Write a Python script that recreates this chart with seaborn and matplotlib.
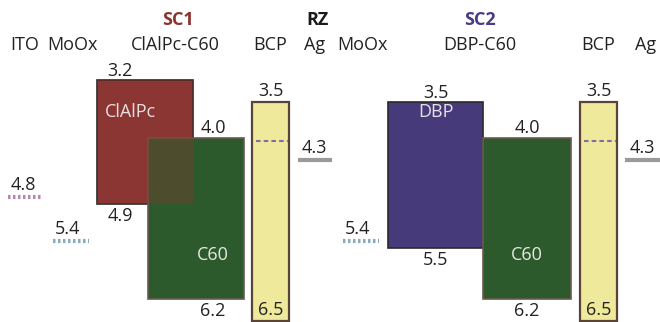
import matplotlib
matplotlib.use("Agg")
import matplotlib.pyplot as plt
import seaborn as sns

# Energy levels (eV, below vacuum)
donor_names = ["ClAlPc", "DBP"]
donor_lumo = [3.2, 3.5]
donor_homo = [4.9, 5.5]
c60_lumo = [4.0, 4.0]
c60_homo = [6.2, 6.2]
bcp_lumo = [3.5, 3.5]
bcp_homo = [6.5, 6.5]
ag_wf = [4.3, 4.3]
ito_wf = 4.8
moox_wf = [5.4, 5.4]

headers = ["SC1", "RZ", "SC2"]
layer_labels = ["ITO", "MoOx", "ClAlPc-C60", "BCP", "Ag", "MoOx", "DBP-C60", "BCP", "Ag"]

# layout (x in pixel-like units of a 660 wide canvas)
donor_x = [(97, 193), (388, 483)]
c60_x = [(148, 244), (483, 571)]
bcp_x = [(252, 289), (580, 617)]
ag_x = [(298, 332), (625, 662)]
moox_x = [(53, 89), (343, 379)]
ito_x = (8, 43)
header_x = [178, 318, 480]
header_col = ["#8b3330", "#1a1a1a", "#4a3a8a"]
layer_x = [25, 72, 175, 270, 315, 362, 480, 598, 646]

donor_col = ["#8b3632", "#473a7b"]
green = "#2d5a2d"
yellow = "#eee99b"
edge = "#5a4438"
txt = "#222222"

sns.set_theme(style="white")
plt.rcParams['font.family'] = ['Open Sans', 'DejaVu Sans']

fig = plt.figure(figsize=(6.6, 3.22), dpi=100)
ax = fig.add_axes([0, 0, 1, 1])
ax.set_xlim(0, 660)
ax.set_ylim(6.515, 2.104)
ax.axis("off")

fs = 13


def box(x, top, bot, color, **kw):
    ax.bar(x[0], bot - top, width=x[1] - x[0], bottom=top, align="edge",
           color=color, **kw)


for i in range(2):
    # donor
    box(donor_x[i], donor_lumo[i], donor_homo[i], donor_col[i],
        edgecolor="#2a2a2a", linewidth=1.2, zorder=2)
    # C60
    box(c60_x[i], c60_lumo[i], c60_homo[i], green,
        edgecolor="#6b5a50", linewidth=1.2, zorder=3)
    # BCP
    box(bcp_x[i], bcp_lumo[i], bcp_homo[i], yellow,
        edgecolor=edge, linewidth=1.6, zorder=3)
    ax.plot([bcp_x[i][0] + 4, bcp_x[i][1] - 1], [c60_lumo[i] + 0.03] * 2,
            ls=(0, (2.2, 1.5)), color="#8a6aa8", lw=1.5, zorder=4)
    # Ag
    ax.plot(ag_x[i], [ag_wf[i]] * 2, color="#9a9a9a", lw=3, solid_capstyle="butt")
    ax.text(sum(ag_x[i]) / 2 - 1, ag_wf[i] - 0.05, f"{ag_wf[i]:.1f}",
            ha="center", va="bottom", fontsize=fs, color=txt)
    # MoOx
    ax.plot(moox_x[i], [moox_wf[i]] * 2, ls=(0, (0.6, 0.6)), color="#88aabb", lw=3)
    ax.text(sum(moox_x[i]) / 2 - 3, moox_wf[i] - 0.04, f"{moox_wf[i]:.1f}",
            ha="center", va="bottom", fontsize=fs, color=txt)

    # numbers
    dxm = (donor_x[i][0] + donor_x[i][1]) / 2
    cxm = (c60_x[i][0] + c60_x[i][1]) / 2
    bxm = (bcp_x[i][0] + bcp_x[i][1]) / 2
    dlab_x = 120 if i == 0 else dxm
    ax.text(dlab_x, donor_lumo[i] - 0.0, f"{donor_lumo[i]:.1f}", ha="center",
            va="bottom", fontsize=fs, color=txt)
    ax.text(dlab_x, donor_homo[i] + 0.04, f"{donor_homo[i]:.1f}", ha="center",
            va="top", fontsize=fs, color=txt)
    clab_x = 213 if i == 0 else cxm
    ax.text(clab_x, c60_lumo[i] - 0.02, f"{c60_lumo[i]:.1f}", ha="center",
            va="bottom", fontsize=fs, color=txt)
    ax.text(clab_x, c60_homo[i] + 0.04, f"{c60_homo[i]:.1f}", ha="center",
            va="top", fontsize=fs, color=txt)
    ax.text(bxm, bcp_lumo[i] - 0.02, f"{bcp_lumo[i]:.1f}", ha="center",
            va="bottom", fontsize=fs, color=txt)
    ax.text(bxm, bcp_homo[i] - 0.02, f"{bcp_homo[i]:.1f}", ha="center",
            va="bottom", fontsize=fs, color=txt, zorder=5)
    # material names
    ax.text(clab_x, 5.6, "C60", ha="center", va="center", fontsize=fs,
            color="#e8e8e0", zorder=5)
    name_x = 130 if i == 0 else dxm
    ax.text(name_x, 3.64, donor_names[i], ha="center",
            va="center", fontsize=fs, color="#e8e0e0", zorder=5)

# SC1 overlap tint
box(donor_x[0], donor_lumo[0], donor_homo[0], donor_col[0], alpha=0.35,
    linewidth=0, zorder=3.5)

# ITO
ax.plot(ito_x, [ito_wf] * 2, ls=(0, (0.6, 0.6)), color="#b488b4", lw=3)
ax.text(sum(ito_x) / 2 - 2, ito_wf - 0.04, f"{ito_wf:.1f}", ha="center",
        va="bottom", fontsize=fs, color=txt)

# headers
for h, x, c in zip(headers, header_x, header_col):
    ax.text(x, 2.38, h, ha="center", va="center", fontsize=fs, weight="bold", color=c)
for lab, x in zip(layer_labels, layer_x):
    ax.text(x, 2.72, lab, ha="center", va="center", fontsize=fs, color=txt)

fig.savefig("out.png", dpi=100)
